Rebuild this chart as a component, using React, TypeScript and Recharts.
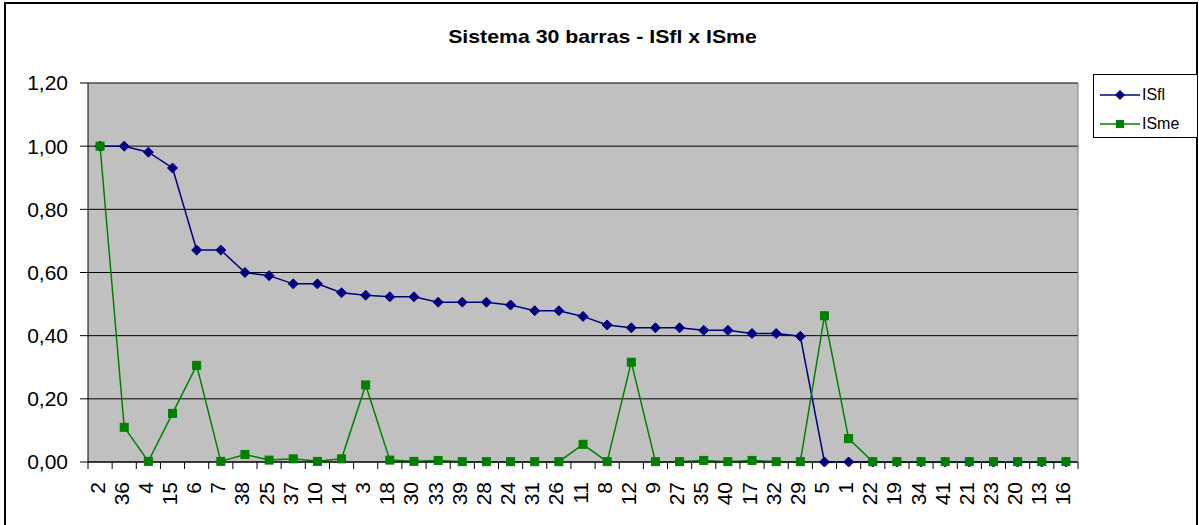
import { LineChart, Line, XAxis, YAxis, CartesianGrid, Legend } from "recharts";

// barras na ordem do eixo X
const BARRAS = [
  "2", "36", "4", "15", "6", "7", "38", "25", "37", "10",
  "14", "3", "18", "30", "33", "39", "28", "24", "31", "26",
  "11", "8", "12", "9", "27", "35", "40", "17", "32", "29",
  "5", "1", "22", "19", "34", "41", "21", "23", "20", "13", "16",
];

const ISFL = [
  1.0, 1.0, 0.981, 0.931, 0.671, 0.671, 0.6, 0.59, 0.564, 0.564,
  0.536, 0.528, 0.523, 0.523, 0.506, 0.506, 0.506, 0.497, 0.479, 0.479,
  0.461, 0.434, 0.425, 0.425, 0.425, 0.417, 0.417, 0.407, 0.407, 0.398,
  0, 0, 0, 0, 0, 0, 0, 0, 0, 0, 0,
];

const ISME = [
  1.0, 0.11, 0.002, 0.154, 0.306, 0.002, 0.024, 0.006, 0.01, 0.002,
  0.01, 0.244, 0.006, 0.002, 0.005, 0.001, 0.001, 0.001, 0.001, 0.001,
  0.056, 0.001, 0.316, 0.001, 0.001, 0.005, 0.001, 0.005, 0.001, 0.001,
  0.463, 0.074, 0.001, 0.001, 0.001, 0.001, 0.001, 0.001, 0.001, 0.001, 0.001,
];

const Y_TICKS = [0, 0.2, 0.4, 0.6, 0.8, 1.0, 1.2];

const data = BARRAS.map((barra, i) => ({ barra, isfl: ISFL[i], isme: ISME[i] }));

const W = 1199;
const H = 525;
const M_TOP = 83;
const M_RIGHT = 120;
const Y_W = 88;
const X_H = 63;
const BAND = (W - M_RIGHT - 1 - Y_W) / BARRAS.length;
const FONT = '"Liberation Sans", Arial, sans-serif';
const NAVY = "#000080";
const GREEN = "#008000";

const fmt = (v: number) => v.toFixed(2).replace(".", ",");

function XTick({ x, y, payload, index }: any) {
  const last = index === BARRAS.length - 1;
  return (
    <g>
      <line x1={x - BAND / 2} x2={x - BAND / 2} y1={y} y2={y + 7} stroke="#000" />
      {last && <line x1={x + BAND / 2} x2={x + BAND / 2} y1={y} y2={y + 7} stroke="#000" />}
      <text
        transform={`translate(${x - 3},${y + 20}) rotate(-90)`}
        textAnchor="end"
        dominantBaseline="central"
        fontSize={21}
        fontFamily={FONT}
        fill="#000"
      >
        {payload.value}
      </text>
    </g>
  );
}

const diamond = ({ cx, cy, index }: any) => (
  <path
    key={`d${index}`}
    d={`M${cx},${cy - 5} L${cx + 5},${cy} L${cx},${cy + 5} L${cx - 5},${cy} Z`}
    fill={NAVY}
    stroke={NAVY}
  />
);

const square = ({ cx, cy, index }: any) => (
  <rect key={`s${index}`} x={cx - 4} y={cy - 4} width={8} height={8} fill={GREEN} stroke={GREEN} />
);

function LegendBox({ payload }: any) {
  return (
    <div
      style={{
        boxSizing: "border-box",
        width: 105,
        height: 64,
        border: "1px solid #000",
        background: "#fff",
        paddingTop: 5,
        fontFamily: FONT,
        fontSize: 16,
      }}
    >
      {(payload || []).map((p: any) => (
        <div key={p.value} style={{ display: "flex", alignItems: "center", height: 29 }}>
          <svg width={48} height={12} style={{ marginLeft: 6 }}>
            <line x1={0} x2={40} y1={6} y2={6} stroke={p.color} strokeWidth={1.5} />
            {p.dataKey === "isfl" ? (
              <path d="M20,1 L25,6 L20,11 L15,6 Z" fill={p.color} />
            ) : (
              <rect x={16} y={2} width={8} height={8} fill={p.color} />
            )}
          </svg>
          <span style={{ marginLeft: -6 }}>{p.value}</span>
        </div>
      ))}
    </div>
  );
}

export default function App() {
  return (
    <div
      style={{
        position: "absolute",
        left: 0,
        top: 0,
        width: W,
        height: H,
        overflow: "hidden",
        background: "#fff",
      }}
    >
      <div
        style={{
          position: "absolute",
          left: 4,
          top: 2,
          width: 1194,
          height: 540,
          boxSizing: "border-box",
          border: "2px solid #000",
        }}
      />
      <div
        style={{
          position: "absolute",
          left: 3,
          top: 27,
          width: W,
          textAlign: "center",
          fontFamily: FONT,
          fontWeight: "bold",
          fontSize: 19,
          lineHeight: 1,
          transform: "scaleX(1.12)",
        }}
      >
        Sistema 30 barras - ISfl x ISme
      </div>
      <LineChart
        width={W}
        height={H}
        data={data}
        margin={{ top: M_TOP, right: M_RIGHT, left: 0, bottom: 0 }}
      >
        <CartesianGrid vertical={false} stroke="#000" fill="#C0C0C0" fillOpacity={1} />
        <XAxis
          dataKey="barra"
          interval={0}
          height={X_H}
          padding={{ left: BAND / 2, right: BAND / 2 }}
          tickSize={0}
          tickMargin={0}
          tickLine={false}
          axisLine={{ stroke: "#000" }}
          tick={<XTick />}
        />
        <YAxis
          width={Y_W}
          domain={[0, 1.2]}
          ticks={Y_TICKS}
          tickFormatter={fmt}
          tickSize={8}
          tickMargin={12}
          axisLine={{ stroke: "#000" }}
          tickLine={{ stroke: "#000" }}
          tick={{ fill: "#000", fontSize: 21, fontFamily: FONT }}
        />
        <YAxis
          yAxisId="r"
          orientation="right"
          width={1}
          domain={[0, 1.2]}
          tick={false}
          tickLine={false}
          axisLine={{ stroke: "#808080" }}
        />
        <Line
          dataKey="isfl"
          name="ISfl"
          stroke={NAVY}
          strokeWidth={1.5}
          dot={diamond}
          activeDot={false}
          isAnimationActive={false}
        />
        <Line
          dataKey="isme"
          name="ISme"
          stroke={GREEN}
          strokeWidth={1.5}
          dot={square}
          activeDot={false}
          isAnimationActive={false}
        />
        <Legend
          layout="vertical"
          align="center"
          verticalAlign="middle"
          content={<LegendBox />}
          wrapperStyle={{ left: 1093, top: 74, width: 105, height: 64 }}
        />
      </LineChart>
    </div>
  );
}
